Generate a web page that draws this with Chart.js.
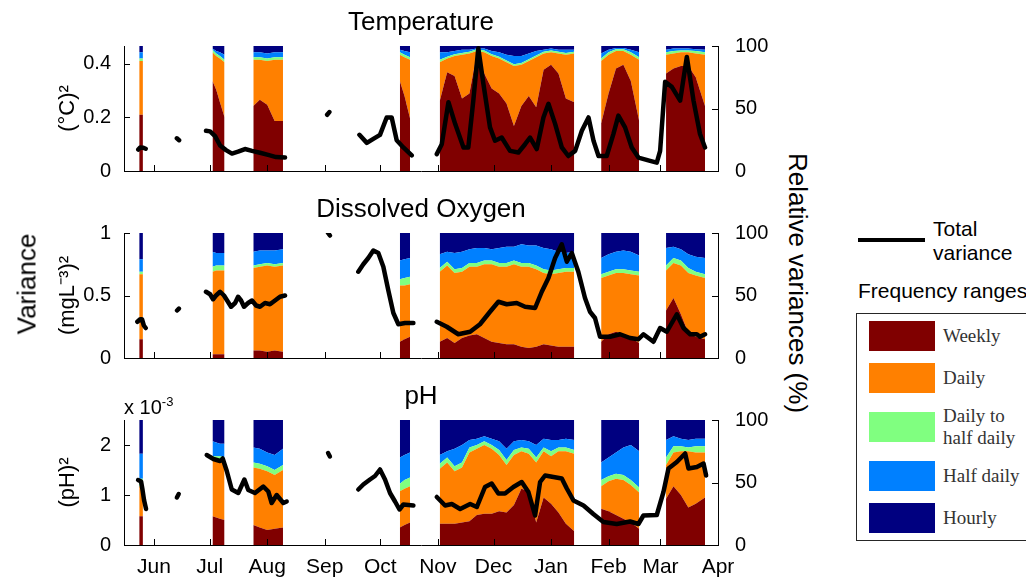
<!DOCTYPE html>
<html>
<head>
<meta charset="utf-8">
<script src="https://cdn.jsdelivr.net/npm/chart.js@4.4.1/dist/chart.umd.min.js"></script>
<style>
  html, body { margin: 0; padding: 0; background: #fff; }
  body { width: 1026px; height: 579px; overflow: hidden; position: relative;
         font-family: "Liberation Sans", Arial, sans-serif; color: #000; }
  canvas { position: absolute; left: 0; }
  .rot { position: absolute; white-space: nowrap; font-size: 26px; }
  #freqBox { position: absolute; left: 856px; top: 313px; width: 220px; height: 228px; box-sizing: border-box;
             border: 1px solid #262626; padding: 7px 0 0 12px; display: flex; flex-direction: column; gap: 12px; }
  .row { display: flex; align-items: center; }
  .sw { width: 66px; height: 30px; flex: none; }
  .lab { margin-left: 8px; font-family: "Liberation Serif", serif; font-size: 19px; line-height: 22px; color: #333; white-space: nowrap; }
</style>
</head>
<body>
<canvas id="tempChart" width="780" height="186" style="top:7px"></canvas>
<canvas id="doChart" width="780" height="186" style="top:194px"></canvas>
<canvas id="phChart" width="780" height="204" style="top:381px"></canvas>

<div class="rot" style="left:27px;top:284px;transform:translate(-50%,-50%) rotate(-90deg)">Variance</div>
<div class="rot" style="left:797px;top:283px;transform:translate(-50%,-50%) rotate(90deg)">Relative variances (%)</div>
<div style="position:absolute;left:124px;top:394px;font-size:20px;white-space:nowrap">x 10<sup style="font-size:13px">-3</sup></div>

<div style="position:absolute;left:858px;top:238px;width:67px;height:4px;background:#000"></div>
<div style="position:absolute;left:933px;top:217px;font-size:21px;line-height:24px">Total<br>variance</div>
<div style="position:absolute;left:858px;top:279px;font-size:21px;white-space:nowrap">Frequency ranges</div>
<div id="freqBox"></div>

<script>
// x axis: days counted from 1 June
const monthStarts = [0, 30, 61, 92, 122, 153, 183, 214, 245, 273, 304];
const monthNames = ['Jun', 'Jul', 'Aug', 'Sep', 'Oct', 'Nov', 'Dec', 'Jan', 'Feb', 'Mar', 'Apr'];
const dayMin = -16.2, dayMax = 304;

const bandNames = ['Weekly', 'Daily', 'Daily to<br>half daily', 'Half daily', 'Hourly'];
const bandColors = ['#800000', '#ff8000', '#80ff80', '#0080ff', '#000080'];

const relTicks = [0, 50, 100];
const tempTicks = [0, 0.2, 0.4];
const doTicks = [0, 0.5, 1];
const phTicks = [0, 1, 2];

// sample days of the analysed windows (null = gap between windows)
const stackDays = [
  -8, -6, null,
  31.5, 33.5, 35.5, 38, null,
  53.5, 57, 61, 65, 69.5, null,
  132.5, 135, 138, null,
  154, 158, 162, 166, 170, 174, 178, 182, 186, 190, 194, 198, 202, 206, 210, 214, 218, 222, 226.5, null,
  241, 245, 249, 253, 257, 261.5, null,
  276, 280, 284, 288, 292, 297
];

// cumulative relative variance (%) up to each band: weekly, +daily, +daily-to-half-daily, +half daily (hourly fills to 100)
const tempWeekly = [45, 45, null, 72, 65, 55, 43, null, 52, 57, 53, 40, 40, null, 72, 60, 42, null, 56, 79, 76, 58, 62, 94, 78, 66, 62, 54, 36, 52, 60, 51, 81, 85, 78, 58, 55, null, 38, 62, 82, 85, 72, 40, null, 78, 82, 84, 84, 75, 52];
const tempDaily = [88, 88, null, 95, 92, 90, 87, null, 89, 89, 88, 89, 89, null, 93, 91, 89, null, 87, 90, 92, 93, 94, 96, 95, 92, 90, 87, 84, 85, 88, 91, 94, 95, 94, 93, 94, null, 88, 93, 96, 96, 93, 89, null, 93, 94, 95, 95, 94, 93];
const tempMid = [90, 90, null, 97, 94, 92, 89, null, 91, 91, 90, 91, 91, null, 95, 93, 91, null, 89, 91.5, 93.5, 94.5, 95.5, 97.5, 96.5, 93.5, 91.5, 88.5, 85.5, 86.5, 89.5, 92.5, 95.5, 96.5, 95.5, 94.5, 95.5, null, 90, 95, 97.5, 97.5, 95, 91, null, 95, 96, 96.5, 96.5, 96, 95];
const tempHalf = [95, 95, null, 98, 96, 95, 93, null, 95, 95, 94, 95, 95, null, 97, 96, 95, null, 95, 95, 96, 97, 97, 98, 98, 96, 95, 93, 92, 92, 94, 96, 97, 98, 97, 97, 97, null, 94, 97, 98.5, 98.5, 97, 95, null, 97, 98, 98, 98, 97.5, 97];

const doWeekly = [15, 15, null, 3, 3, 3, 3, null, 6, 6, 5, 6, 5, null, 13, 15, 17, null, 13, 16, 12, 16, 18, 19, 16, 13, 12, 11, 11, 9, 8, 9, 11, 10, 9, 9, 9, null, 13, 19, 21, 19, 16, 12, null, 38, 48, 35, 20, 17, 15];
const doDaily = [67, 67, null, 69, 70, 70, 70, null, 72, 73, 74, 73, 74, null, 58, 58, 59, null, 69, 74, 68, 69, 73, 73, 75, 75, 73, 73, 75, 73, 73, 71, 68, 67, 68, 69, 69, null, 64, 66, 68, 68, 67, 66, null, 70, 76, 74, 68, 66, 64];
const doMid = [69, 69, null, 73, 74, 74, 74, null, 74, 75, 76, 75, 76, null, 63, 64, 65, null, 72, 77, 71, 72, 76, 76, 78, 78, 76, 76, 78, 76, 76, 74, 71, 70, 71, 72, 72, null, 67, 69, 71, 71, 70, 69, null, 74, 80, 78, 72, 69, 67];
const doHalf = [79, 79, null, 85, 84, 84, 84, null, 85, 86, 86, 86, 87, null, 78, 79, 80, null, 83, 85, 84, 85, 87, 88, 88, 87, 88, 89, 89, 91, 90, 90, 88, 87, 85, 84, 85, null, 80, 83, 85, 86, 85, 82, null, 88, 89, 87, 83, 81, 80];

const phWeekly = [23, 23, null, 23, 22, 21, 20, null, 16, 14, 12, 13, 14, null, 14, 16, 18, null, 17, 17, 17, 18, 19, 24, 25, 25, 27, 26, 32, 45, 43, 18, 38, 33, 26, 17, 11, null, 29, 27, 24, 21, 18, 13, null, 37, 47, 40, 30, 33, 38];
const phDaily = [47, 47, null, 68, 68, 68, 68, null, 62, 61, 59, 56, 60, null, 43, 45, 47, null, 61, 66, 59, 62, 74, 77, 80, 77, 72, 64, 72, 75, 73, 66, 75, 71, 75, 75, 73, null, 47, 51, 53, 52, 48, 42, null, 64, 74, 75, 75, 74, 74];
const phMid = [53, 53, null, 71, 71, 71, 70, null, 66, 65, 63, 60, 64, null, 49, 52, 54, null, 65, 70, 63, 66, 78, 80, 83, 80, 76, 68, 76, 78, 77, 70, 78, 75, 78, 78, 76, null, 52, 55, 57, 56, 52, 46, null, 70, 79, 79, 78, 79, 79];
const phHalf = [73, 73, null, 83, 82, 81, 81, null, 78, 77, 74, 72, 77, null, 70, 72, 74, null, 72, 75, 77, 80, 84, 85, 87, 85, 83, 77, 83, 84, 83, 80, 85, 84, 84, 85, 84, null, 66, 70, 74, 78, 80, 75, null, 84, 87, 85, 84, 85, 85];

// total variance (left axis units)
const tempLineDays = [-8.5, -7.5, -6, -4.5, null, 12.3, 13.5, null, 28, 30.2, 32.9, 35.6, 38.8, 42, 45.3, 49, 52.8, 57.1, 61.5, 65.8, 70.6, null, 93.3, 94.5, null, 110.7, 114.7, 118.2, 121.8, 125.4, 128.1, 130.8, 134.4, 138.9, null, 152.4, 155.1, 158.7, 162.3, 166.8, 169.4, 172.1, 174.8, 177.5, 181.1, 183.8, 187.4, 191.9, 196.4, 200, 202.7, 206.3, 209.9, 212.6, 216.2, 219.8, 223.3, 227, 230.6, 234.2, 236.9, 239.6, 244, 247.6, 250.3, 253.9, 257.5, 261.1, 267.4, 271, 272.8, 275.5, 279.1, 283.6, 287.2, 290.8, 294.3, 297];
const tempLineVar = [0.08, 0.088, 0.087, 0.083, null, 0.122, 0.115, null, 0.15, 0.148, 0.13, 0.095, 0.078, 0.065, 0.072, 0.082, 0.075, 0.068, 0.06, 0.052, 0.05, null, 0.21, 0.22, null, 0.135, 0.105, 0.12, 0.135, 0.2, 0.2, 0.115, 0.088, 0.058, null, 0.063, 0.1, 0.257, 0.176, 0.088, 0.088, 0.263, 0.458, 0.327, 0.163, 0.113, 0.125, 0.075, 0.069, 0.1, 0.125, 0.082, 0.2, 0.251, 0.176, 0.088, 0.056, 0.075, 0.15, 0.2, 0.113, 0.056, 0.056, 0.138, 0.207, 0.163, 0.088, 0.05, 0.038, 0.031, 0.075, 0.333, 0.314, 0.263, 0.426, 0.263, 0.138, 0.088];

const doLineDays = [-9, -7.5, -6.5, -5.5, -4.5, null, 12.4, 13.4, null, 28, 30.2, 31.8, 33.4, 35.6, 37.7, 39.4, 41.5, 43.7, 45.3, 46.9, 48.5, 50.7, 52.8, 55, 57.1, 59.8, 62.5, 65.2, 67.9, 70.6, null, 93.8, 94.8, null, 110.1, 112.8, 115.5, 118.2, 120.9, 123.6, 126.3, 129, 131.7, 135.3, 139.8, null, 152.4, 157.8, 164, 170.4, 175.7, 181.1, 185.6, 190.1, 195.5, 200, 205.4, 209, 212.6, 216.2, 219.8, 222.5, 225.2, 228.7, 232.3, 235, 237.7, 240.4, 245.8, 251.2, 256.6, 261.1, 263.8, 269.2, 272.8, 276.4, 281.8, 285.4, 289, 292.6, 294.3, 297];
const doLineVar = [0.29, 0.31, 0.31, 0.26, 0.24, null, 0.38, 0.395, null, 0.53, 0.51, 0.47, 0.5, 0.53, 0.5, 0.46, 0.41, 0.44, 0.49, 0.46, 0.41, 0.44, 0.46, 0.42, 0.41, 0.44, 0.43, 0.46, 0.49, 0.5, null, 1.0, 0.98, null, 0.69, 0.75, 0.8, 0.86, 0.84, 0.73, 0.54, 0.36, 0.27, 0.28, 0.28, null, 0.29, 0.25, 0.19, 0.21, 0.27, 0.37, 0.45, 0.43, 0.44, 0.41, 0.40, 0.53, 0.64, 0.80, 0.91, 0.77, 0.84, 0.69, 0.48, 0.37, 0.32, 0.17, 0.17, 0.19, 0.16, 0.15, 0.19, 0.13, 0.24, 0.21, 0.35, 0.24, 0.19, 0.19, 0.17, 0.19];

// pH variance in units of 1e-3
const phLineDays = [-8.6, -7, -6.2, -5.4, -4.3, null, 12.3, 13.3, null, 28.4, 32, 35.6, 37, 39.2, 41.9, 45.4, 48.7, 50.8, 54.4, 58.9, 61.6, 63.4, 66.1, 69.7, 71.5, null, 93.8, 94.8, null, 110.1, 112.8, 116.4, 119.1, 121.8, 124.5, 127.2, 129.9, 132.3, 134.4, 139.8, null, 152.4, 156.9, 160.5, 165, 170.4, 174, 178.4, 182, 185.6, 189.2, 193.7, 198.2, 201.8, 205.4, 208.1, 210.8, 215.3, 219.8, 222.5, 226.1, 231.5, 236.8, 242.2, 249.4, 256.6, 261.1, 263.8, 271, 274.6, 277.3, 281.8, 286.3, 288.1, 292.6, 296.2, 297.6];
const phLineVar = [1.3, 1.27, 1.1, 0.9, 0.72, null, 0.95, 1.02, null, 1.8, 1.72, 1.68, 1.73, 1.48, 1.11, 1.04, 1.31, 1.1, 1.04, 1.17, 1.07, 0.84, 1.0, 0.84, 0.87, null, 1.84, 1.77, null, 1.11, 1.21, 1.31, 1.38, 1.51, 1.31, 1.04, 0.87, 0.71, 0.81, 0.79, null, 0.96, 0.79, 0.82, 0.72, 0.82, 0.76, 1.16, 1.23, 1.03, 1.03, 1.16, 1.26, 1.06, 0.59, 1.26, 1.39, 1.36, 1.33, 1.13, 0.89, 0.79, 0.62, 0.46, 0.42, 0.47, 0.42, 0.59, 0.6, 1.06, 1.53, 1.66, 1.83, 1.53, 1.56, 1.63, 1.39];

Chart.defaults.font.family = '"Liberation Sans", Arial, sans-serif';
Chart.defaults.color = '#000';

// MATLAB-style ticks pointing into the axes
const inwardTicks = {
  id: 'inwardTicks',
  afterDatasetsDraw(chart) {
    const { ctx, chartArea: a, scales } = chart;
    ctx.save();
    ctx.strokeStyle = '#000';
    ctx.lineWidth = 1;
    ctx.beginPath();
    scales.x.ticks.forEach(t => {
      const p = Math.round(scales.x.getPixelForValue(t.value)) + 0.5;
      ctx.moveTo(p, a.bottom); ctx.lineTo(p, a.bottom - 6);
    });
    scales.yL.ticks.forEach(t => {
      const p = Math.round(scales.yL.getPixelForValue(t.value)) + 0.5;
      ctx.moveTo(a.left, p); ctx.lineTo(a.left + 6, p);
    });
    scales.yR.ticks.forEach(t => {
      const p = Math.round(scales.yR.getPixelForValue(t.value)) + 0.5;
      ctx.moveTo(a.right, p); ctx.lineTo(a.right - 6, p);
    });
    ctx.stroke();
    ctx.restore();
  }
};

function windowDatasets(edges) {
  const sets = [];
  let idx = [];
  const flush = () => {
    if (!idx.length) return;
    for (let b = 0; b < 5; b++) {
      sets.push({
        type: 'line',
        yAxisID: 'yR',
        data: idx.map(i => ({ x: stackDays[i], y: b < 4 ? edges[b][i] : 100 })),
        borderWidth: 0,
        pointRadius: 0,
        backgroundColor: bandColors[b],
        fill: b === 0 ? 'origin' : '-1'
      });
    }
    idx = [];
  };
  stackDays.forEach((d, i) => { if (d === null) flush(); else idx.push(i); });
  flush();
  return sets;
}

function makePanel(id, title, yTitle, leftMax, leftTicks, lineDays, lineVals, edges, showMonths) {
  const lineSet = {
    type: 'line',
    yAxisID: 'yL',
    data: lineDays.map((d, i) => ({ x: d, y: lineVals[i] })),
    borderColor: '#000',
    borderWidth: 4.5,
    borderJoinStyle: 'round',
    borderCapStyle: 'round',
    pointRadius: 0,
    fill: false,
    spanGaps: false
  };
  new Chart(document.getElementById(id), {
    type: 'line',
    data: { datasets: [lineSet].concat(windowDatasets(edges)) },
    options: {
      responsive: false,
      animation: false,
      devicePixelRatio: 1,
      layout: { padding: { left: 51, right: 0, top: 0, bottom: 0 } },
      plugins: {
        legend: { display: false },
        tooltip: { enabled: false },
        title: {
          display: true, text: title, fullSize: false, color: '#000',
          font: { size: 26, weight: 'normal' }, padding: { top: 0, bottom: 7.8 }
        }
      },
      scales: {
        x: {
          type: 'linear', min: dayMin, max: dayMax,
          grid: { display: false },
          border: { display: true, color: '#000', z: 1 },
          afterBuildTicks: s => { s.ticks = monthStarts.map(v => ({ value: v })); },
          ticks: {
            display: showMonths, autoSkip: false, maxRotation: 0, padding: 2,
            font: { size: 21 }, color: '#000',
            callback: v => monthNames[monthStarts.indexOf(v)]
          },
          afterFit: s => { s.height = showMonths ? 40 : 22; }
        },
        yL: {
          position: 'left', min: 0, max: leftMax,
          grid: { display: false },
          border: { display: true, color: '#000', z: 1 },
          afterBuildTicks: s => { s.ticks = leftTicks.map(v => ({ value: v })); },
          ticks: { padding: 5, font: { size: 20 }, color: '#000', callback: v => String(v) },
          title: { display: true, text: yTitle, font: { size: 22 }, color: '#000', padding: { top: 4, bottom: 0 } },
          afterFit: s => { s.width = 124 - 51; }
        },
        yR: {
          position: 'right', min: 0, max: 100,
          grid: { display: false },
          border: { display: true, color: '#000', z: 1 },
          afterBuildTicks: s => { s.ticks = relTicks.map(v => ({ value: v })); },
          ticks: { padding: 9, font: { size: 20 }, color: '#000', callback: v => String(v) },
          afterFit: s => { s.width = 62; }
        }
      }
    },
    plugins: [inwardTicks]
  });
}

makePanel('tempChart', 'Temperature', '(°C)²', 0.4667, tempTicks, tempLineDays, tempLineVar,
  [tempWeekly, tempDaily, tempMid, tempHalf], false);
makePanel('doChart', 'Dissolved Oxygen', '(mgL⁻³)²', 1, doTicks, doLineDays, doLineVar,
  [doWeekly, doDaily, doMid, doHalf], false);
makePanel('phChart', 'pH', '(pH)²', 2.5, phTicks, phLineDays, phLineVar,
  [phWeekly, phDaily, phMid, phHalf], true);

// frequency range legend
const box = document.getElementById('freqBox');
bandNames.forEach((name, i) => {
  const row = document.createElement('div');
  row.className = 'row';
  row.innerHTML = '<div class="sw" style="background:' + bandColors[i] + '"></div><div class="lab">' + name + '</div>';
  box.appendChild(row);
});
</script>
</body>
</html>
